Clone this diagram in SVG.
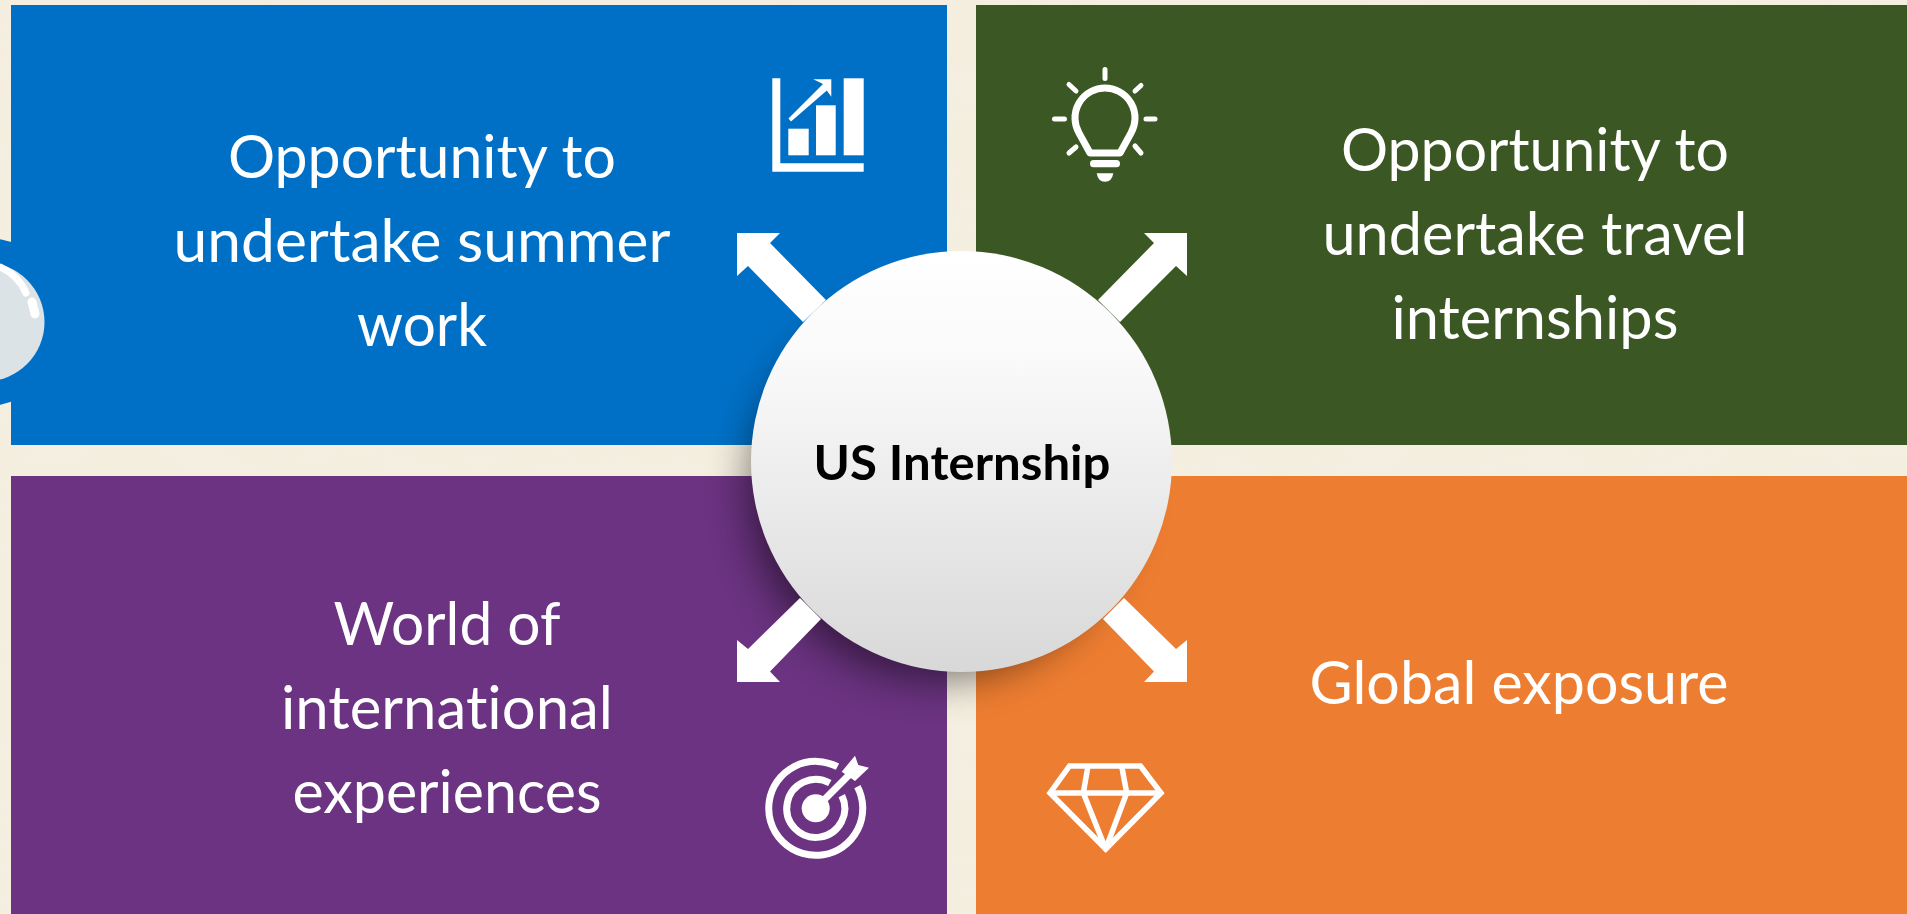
<svg xmlns="http://www.w3.org/2000/svg" width="1907" height="914" viewBox="0 0 1907 914">
<defs>
<linearGradient id="hub" x1="0" y1="0" x2="0" y2="1"><stop offset="0" stop-color="#ffffff"/><stop offset="0.25" stop-color="#fafafa"/><stop offset="1" stop-color="#d8d8d8"/></linearGradient>
<filter id="paper" x="0" y="0" width="100%" height="100%"><feTurbulence type="fractalNoise" baseFrequency="0.012 0.05" numOctaves="3" seed="4"/><feColorMatrix values="0 0 0 0 0.88 0 0 0 0 0.83 0 0 0 0 0.70 1.4 0 0 0 -0.45"/></filter>
<filter id="soft" x="-30%" y="-30%" width="160%" height="160%"><feGaussianBlur stdDeviation="20"/></filter>
<style>
.t{font-family:"Lato","Liberation Sans",sans-serif;font-size:60px;fill:#fff;text-anchor:middle;font-variant-ligatures:none}
.ic{fill:#fff;stroke:none}
.ln{fill:none;stroke:#fff;stroke-linecap:round;stroke-linejoin:round}
.ar{fill:#fff}
</style>
</defs>
<rect width="1907" height="914" fill="#f5efe1"/>
<rect width="1907" height="914" filter="url(#paper)" opacity="0.4"/>
<g id="node-summer-work">
<rect x="11" y="5" width="936" height="440" fill="#0070c6"/>
<circle cx="-15" cy="322" r="84" fill="#0070c6"/>
<circle cx="-15" cy="322" r="59.5" fill="#dce3e6"/>
<path d="M0 267Q18 275 26 293" fill="none" stroke="#fff" stroke-width="7" stroke-linecap="round"/>
<path d="M32 302L35 314" fill="none" stroke="#fff" stroke-width="9" stroke-linecap="round"/>
<text class="t" x="422" y="178" textLength="388" lengthAdjust="spacingAndGlyphs">Opportunity to</text>
<text class="t" x="422" y="262" textLength="497" lengthAdjust="spacingAndGlyphs">undertake summer</text>
<text class="t" x="422" y="346" textLength="130" lengthAdjust="spacingAndGlyphs">work</text>
<g class="ic">
<path d="M772.3 78.3H780.3V163.3H863.7V171.7H772.3Z"/>
<rect x="788.3" y="128.7" width="20.4" height="26.6"/>
<rect x="816" y="105.3" width="19.7" height="50"/>
<rect x="843.7" y="78.3" width="20" height="77"/>
<path d="M813.3 79.3H831.3V96.7L826.8 90.5L791 121.5L788.5 118.5L823 84Z"/>
</g>
</g>
<g id="node-travel-internships">
<rect x="976" y="5" width="931" height="440" fill="#3b5724"/>
<text class="t" x="1535" y="171" textLength="388" lengthAdjust="spacingAndGlyphs">Opportunity to</text>
<text class="t" x="1535" y="255" textLength="425" lengthAdjust="spacingAndGlyphs">undertake travel</text>
<text class="t" x="1535" y="339" textLength="287" lengthAdjust="spacingAndGlyphs">internships</text>
<g class="ln" stroke-width="5">
<path d="M1105 69.5V78.5M1054.5 119H1064.5M1146 119H1155M1069 84.5L1076 91M1141 85.5L1135 91M1069 153L1076 147M1141 153L1135 146"/>
<path stroke-width="7" d="M1090 153H1120L1131 133A30 30 0 1 0 1079 133Z"/>
</g>
<rect class="ic" x="1090" y="160" width="30" height="7.3" rx="3.6"/>
<path class="ic" d="M1096.7 173.3H1113.3Q1112 181.7 1105 181.7Q1098 181.7 1096.7 173.3Z"/>
</g>
<g id="node-international">
<rect x="11" y="476" width="936" height="438" fill="#6b3381"/>
<text class="t" x="447" y="645" textLength="227" lengthAdjust="spacingAndGlyphs">World of</text>
<text class="t" x="447" y="729" textLength="332" lengthAdjust="spacingAndGlyphs">international</text>
<text class="t" x="447" y="813" textLength="309" lengthAdjust="spacingAndGlyphs">experiences</text>
<g class="ln" stroke-width="7">
<path stroke-linecap="butt" d="M837.5 766.7A47 47 0 1 0 857.4 786.6"/>
<path stroke-linecap="butt" d="M829.8 783A29 29 0 1 0 841.8 795.6"/>
<path stroke-linecap="butt" d="M815.7 808.3L850 774"/>
</g>
<circle class="ic" cx="815.7" cy="808.3" r="14"/>
<path class="ic" d="M841.7 771.7L855 755.7L858.3 765L869 767.7L855 781Z"/>
</g>
<g id="node-global-exposure">
<rect x="976" y="476" width="931" height="438" fill="#ed7d31"/>
<text class="t" x="1519" y="704" textLength="419" lengthAdjust="spacingAndGlyphs">Global exposure</text>
<g class="ln" stroke-width="5.5">
<path stroke-linejoin="miter" d="M1069.5 766H1140.5L1161 793L1105.7 849L1050 793Z"/>
<path stroke-linecap="butt" d="M1050 793H1161M1088 766L1083.3 793L1105.7 849L1126.7 793L1121.7 766"/>
</g>
</g>
<circle cx="938" cy="490" r="190" fill="#000" opacity="0.5" filter="url(#soft)"/>
<g id="connectors">
<polygon class="ar" points="737,233 780,233 770,243 826,300 803,322 748,266 737,276"/>
<polygon class="ar" points="1187,233 1144,233 1154,243 1098,300 1120,322 1176,266 1187,276"/>
<polygon class="ar" points="737,682 780,682 770,671.5 821,619 800,598 748,649 737,640"/>
<polygon class="ar" points="1187,682 1144,682 1154,671.5 1103,619 1124,598 1176,649 1187,640"/>
</g>
<g id="node-hub">
<circle cx="961.5" cy="461.5" r="210.5" fill="url(#hub)"/>
<text x="962" y="480" font-family="Lato,'Liberation Sans',sans-serif" font-weight="700" font-size="48" text-anchor="middle" fill="#000" textLength="297" lengthAdjust="spacingAndGlyphs" style="font-variant-ligatures:none">US Internship</text>
</g>
</svg>
